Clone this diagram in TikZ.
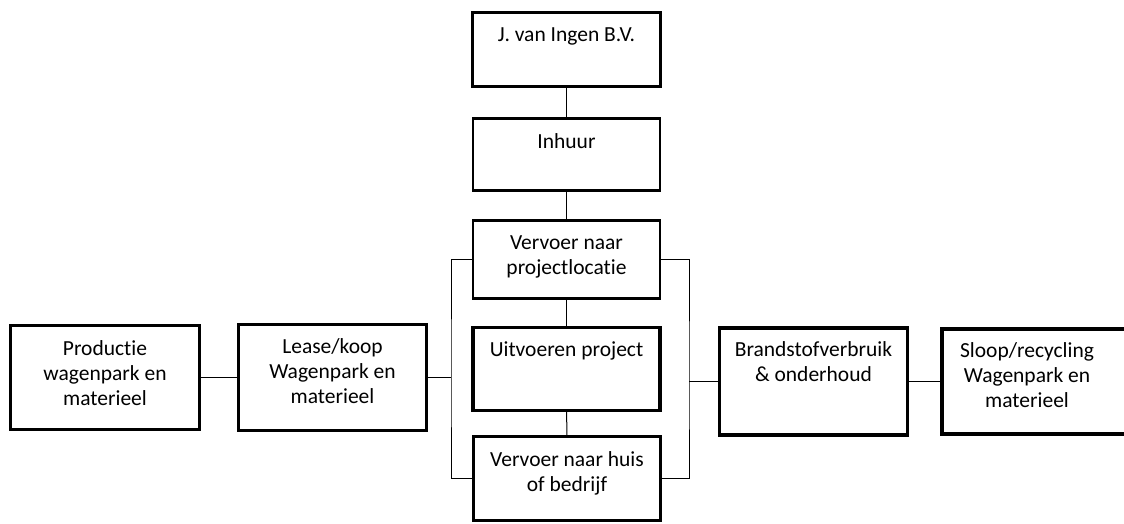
\documentclass[tikz,border=0pt]{standalone}
\usepackage{fontspec}
\setmainfont{Carlito}[Ligatures=NoCommon]
\usetikzlibrary{positioning}
\begin{document}
\begin{tikzpicture}[x=1pt,y=-1pt,
    blok/.style={draw,line width=2.6pt,inner sep=0pt},
    dik/.style={line width=3.4pt},
    tekst/.style={align=center,inner sep=0pt,font=\fontsize{21.5}{25}\selectfont},
    lijn/.style={line width=1pt}]
  \useasboundingbox (0,0) rectangle (1124,524);
  % middenkolom
  \node[blok,minimum width=188pt,minimum height=74pt] (ingen) at (566.5,49.5) {};
  \node[blok,minimum width=187pt,minimum height=72pt] (inhuur) at (566.5,154.5) {};
  \node[blok,minimum width=187pt,minimum height=78pt] (heen) at (566.5,259.5) {};
  \node[blok,dik,minimum width=187pt,minimum height=83pt] (project) at (566.5,369) {};
  \node[blok,minimum width=187pt,minimum height=84pt] (terug) at (567,478.5) {};
  % zijkanten
  \node[blok,minimum width=189pt,minimum height=104pt] (productie) at (105,377.5) {};
  \node[blok,dik,minimum width=188pt,minimum height=106pt] (lease) at (332.5,377.5) {};
  \node[blok,dik,minimum width=188pt,minimum height=107pt] (brandstof) at (813.5,381.5) {};
  \node[blok,dik,minimum width=238pt,minimum height=105pt] (sloop) at (1061,381.5) {};
  % teksten
  \node[tekst,below=16pt of ingen.north] (tingen) {J. van Ingen B.V.};
  \node[tekst,below=16pt of inhuur.north] (tinhuur) {Inhuur};
  \node[tekst,below=16pt of heen.north] (theen) {Vervoer naar\\projectlocatie};
  \node[tekst,below=16pt of project.north] (tproject) {Uitvoeren project};
  \node[tekst,below=16pt of terug.north] (tterug) {Vervoer naar huis\\of bedrijf};
  \node[tekst,below=16pt of productie.north] (tproductie) {Productie\\wagenpark en\\materieel};
  \node[tekst,below=16pt of lease.north] (tlease) {Lease/koop\\Wagenpark en\\materieel};
  \node[tekst,below=15pt of brandstof.north] (tbrandstof) {Brandstofverbruik\\\& onderhoud};
  \node[tekst,below=15pt of sloop.north,xshift=-34pt] (tsloop) {Sloop/recycling\\Wagenpark en\\materieel};
  % verbindingen
  \coordinate (links) at (451,377.5);
  \coordinate (rechts) at (689,381.5);
  \begin{scope}[lijn]
    \draw (ingen) -- (inhuur);
    \draw (inhuur) -- (heen);
    \draw (heen) -- (project);
    \draw (project) -- (terug);
    \draw (productie) -- (lease);
    \draw (lease) -- (links);
    \draw (heen.west) -| (links) |- (terug.west);
    \draw (heen.east) -| (rechts) |- (terug.east);
    \draw (brandstof) -- (rechts);
    \draw (brandstof) -- (sloop);
  \end{scope}
\end{tikzpicture}
\end{document}
